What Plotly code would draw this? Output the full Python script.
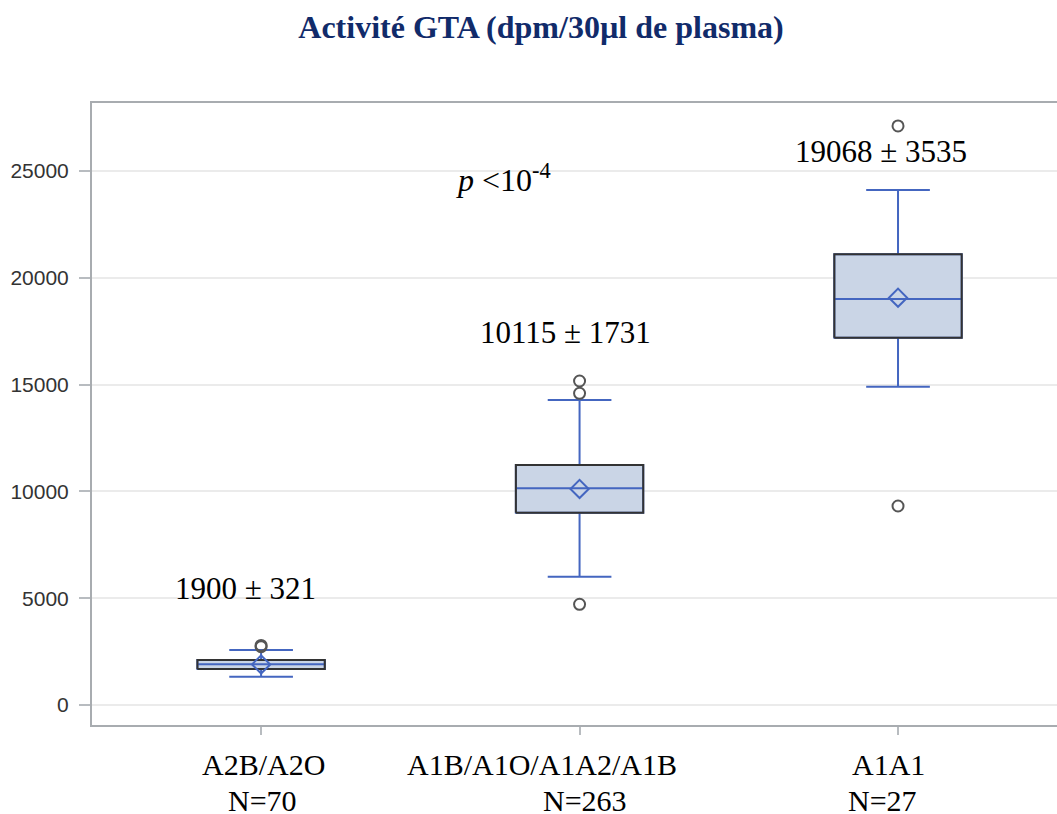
import plotly.graph_objects as go

# Groups and summary statistics
groups = ["A2B/A2O", "A1B/A1O/A1A2/A1B", "A1A1"]
group_n = [70, 263, 27]
means = [1900, 10115, 19068]
sds = [321, 1731, 3535]
q1 = [1685, 9003, 17197]
medians = [1905, 10145, 19009]
q3 = [2107, 11237, 21102]
lower_whisker = [1326, 6007, 14903]
upper_whisker = [2575, 14280, 24112]
outliers = [[2730, 2790], [15170, 14594, 4715], [27109, 9317]]
y_ticks = [0, 5000, 10000, 15000, 20000, 25000]

SERIF = "Liberation Serif"
SANS = "Liberation Sans"
BLUE = "#4466C0"
BOX_W = 0.40
# a bit wider than the window: the frame's right side runs off the page
FIG_W, FIG_H = 1068, 814

xs = list(range(len(groups)))

fig = go.Figure()

fig.add_trace(go.Box(
    x=xs, q1=q1, median=medians, q3=q3,
    lowerfence=lower_whisker, upperfence=upper_whisker,
    width=BOX_W, whiskerwidth=0.5,
    fillcolor="#CAD5E6",
    line=dict(color=BLUE, width=2),
    boxpoints=False, showlegend=False,
))

# dark outline of the interquartile box
rx, ry = [], []
for x, lo, hi in zip(xs, q1, q3):
    h = BOX_W / 2
    rx += [x - h, x + h, x + h, x - h, x - h, None]
    ry += [lo, lo, hi, hi, lo, None]
fig.add_trace(go.Scatter(x=rx, y=ry, mode="lines",
                         line=dict(color="#333333", width=2),
                         showlegend=False, hoverinfo="skip"))

fig.add_trace(go.Scatter(
    x=xs, y=means, mode="markers", showlegend=False,
    marker=dict(symbol="diamond-open", size=14, color=BLUE,
                line=dict(width=2, color=BLUE)),
))

ox = [i for i, vals in enumerate(outliers) for _ in vals]
oy = [v for vals in outliers for v in vals]
fig.add_trace(go.Scatter(
    x=ox, y=oy, mode="markers", showlegend=False,
    marker=dict(symbol="circle-open", size=11, color="#555555",
                line=dict(width=2, color="#555555")),
))

# mean ± sd labels
label_pos = [(-0.049, 5478), (0.956, 17417), (1.947, 25891)]
for (lx, ly), m, s in zip(label_pos, means, sds):
    fig.add_annotation(x=lx, y=ly, xref="x", yref="y", showarrow=False,
                       text=f"{m} ± {s}", yanchor="middle",
                       font=dict(family=SERIF, size=31, color="black"))

fig.add_annotation(x=0.606, y=24674, xref="x", yref="y", showarrow=False,
                   xanchor="left", yanchor="middle",
                   text="<i>p</i> &lt;10<sup>-4</sup>",
                   font=dict(family=SERIF, size=32, color="black"))

# category labels under the axis
name_x = [0.009, 0.881, 1.97]
n_x = [0.003, 1.018, 1.95]
for i, (g, n) in enumerate(zip(groups, group_n)):
    fig.add_annotation(x=name_x[i], y=-0.0643, xref="x", yref="paper",
                       showarrow=False, yanchor="middle", text=g,
                       font=dict(family=SERIF, size=30, color="black"))
    fig.add_annotation(x=n_x[i], y=-0.1206, xref="x", yref="paper",
                       showarrow=False, yanchor="middle", text=f"N={n}",
                       font=dict(family=SERIF, size=30, color="black"))

x_right = (FIG_W - 261) / 318.5

fig.update_layout(
    width=FIG_W, height=FIG_H,
    margin=dict(l=92, r=0, t=103, b=89),
    paper_bgcolor="white", plot_bgcolor="white",
    title=dict(text="<b>Activité GTA (dpm/30µl de plasma)</b>",
               x=541 / FIG_W, xref="container", xanchor="center",
               y=1 - 27 / FIG_H, yref="container", yanchor="middle",
               font=dict(family=SERIF, size=32, color="#112B6A")),
    xaxis=dict(range=[-0.531, x_right], tickvals=xs, showticklabels=False,
               showgrid=False, zeroline=False,
               showline=True, mirror=True, linecolor="#A8ACB0", linewidth=2,
               ticks="outside", ticklen=8, tickcolor="#B8BCC0", tickwidth=2),
    yaxis=dict(range=[-936, 28184], tickvals=y_ticks, tickformat="d",
               showgrid=True, gridcolor="#EBEBEB", gridwidth=2, zeroline=False,
               showline=True, linecolor="#A8ACB0", linewidth=2,
               ticks="outside", ticklen=11, tickcolor="#B8BCC0", tickwidth=2,
               ticklabelstandoff=6,
               tickfont=dict(family=SANS, size=21, color="#333333")),
)

# drop the default page margin so the figure fills the window exactly
fig.write_html(
    "out.html",
    config={"displayModeBar": False},
    post_script="document.body.style.margin='0';"
                "document.body.style.overflow='hidden';",
)
